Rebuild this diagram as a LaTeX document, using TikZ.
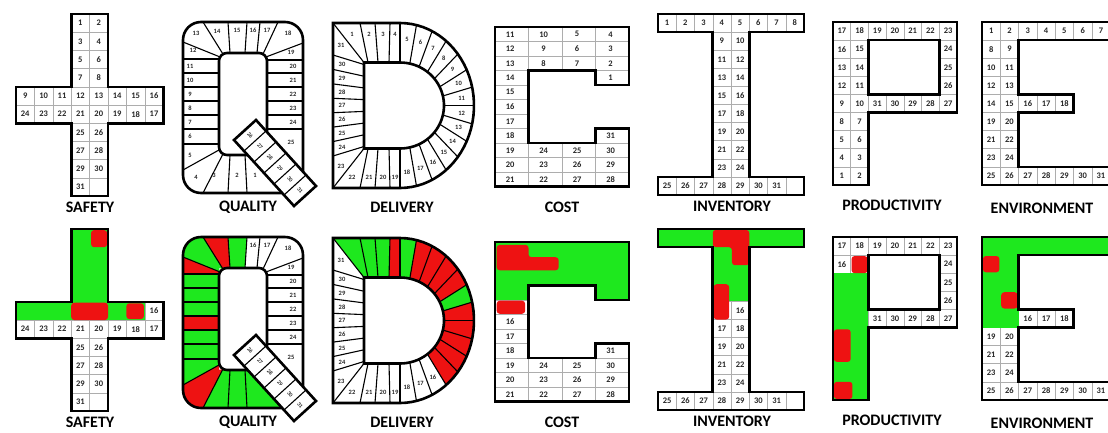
\documentclass[tikz,border=0pt]{standalone}
\usepackage{fontspec}
\setmainfont{Carlito}
\usetikzlibrary{calc}

\definecolor{gr}{RGB}{30,232,30}
\definecolor{rd}{RGB}{238,18,18}

\tikzset{
  outl/.style={line width=2.6pt},
  sep/.style={line width=1.1pt},
  gridln/.style={draw=black!32, line width=0.5pt},
  num/.style={font=\bfseries\fontsize{8.5}{8.5}\selectfont, text=black!85, inner sep=0pt},
  qnum/.style={font=\bfseries\fontsize{6.5}{6.5}\selectfont, text=black!85, inner sep=0pt},
  tnum/.style={font=\bfseries\fontsize{5.5}{5.5}\selectfont, text=black!85, inner sep=0pt},
  title/.style={font=\bfseries\fontsize{16}{16}\selectfont, inner sep=0pt},
  blob/.style={fill=rd, rounded corners=3pt}
}

\newcommand{\kpirow}[1]{%
  \begin{scope}[shift={(16,14)}, x=18.4pt, y=-18.2pt]
    \foreach \n/\cx/\ry in {1/3/0,2/4/0,3/3/1,4/4/1,5/3/2,6/4/2,7/3/3,8/4/3,
      9/0/4,10/1/4,11/2/4,12/3/4,13/4/4,14/5/4,15/6/4,16/7/4,
      24/0/5,23/1/5,22/2/5,21/3/5,20/4/5,19/5/5,18/6/5,17/7/5,
      25/3/6,26/4/6,27/3/7,28/4/7,29/3/8,30/4/8,31/3/9}
      {\draw[gridln] (\cx,\ry) rectangle +(1,1);
       \node[num] (s\n) at (\cx+.5,\ry+.5) {\n};}
    \draw[gridln] (4,9) rectangle +(1,1);
    \ifnum#1=1
      \fill[gr] (3,0) rectangle (5,4);
      \fill[gr] (0,4) rectangle (7,5);
      \fill[blob] (4.08,0.06) rectangle (4.95,1);
      \fill[blob] (3,4.05) rectangle (5,5);
      \fill[blob] (6,4.08) rectangle (6.95,4.95);
    \fi
    \draw[outl] (3,0) -- (5,0) -- (5,4) -- (8,4) -- (8,6) -- (5,6) -- (5,10) -- (3,10) -- (3,6) -- (0,6) -- (0,4) -- (3,4) -- cycle;
  \end{scope}
  \node[title] (safety) at (90,207) {SAFETY};
  % Q
  \foreach \k/\ix/\iy/\ox/\oy in {0/267/155/303/193,1/245/155/247/193,2/230/155/228/193,3/223/153.9/203/193,
    4/219.5/149.7/183/170,5/219/144/183/144,6/219/129/183/129,7/219/115/183/115,8/219/101/183/101,
    9/219/87/183/87,10/219/73/183/73,11/219/59/183/59,12/220.1/57/183/42,13/223/54.1/203/22,
    14/230/53/228/22,15/245/53/247/22,16/257/53/260/22,17/263/54.1/278/22,18/265.9/57/303/43,
    19/267/60/303/60,20/267/73/303/73,21/267/87/303/87,22/267/101/303/101,23/267/115/303/115,24/267/129/303/129}
    {\coordinate (qi\k) at (\ix,\iy); \coordinate (qo\k) at (\ox,\oy);}
  \foreach \n/\x/\y in {1/255/175,2/237/175,3/214/175,4/196/177,5/190/155,6/190/136,7/190/122,8/190/108,
    9/190/94,10/190/80,11/190/66,12/193/50,13/196/33,14/217/31,15/237/30,16/253/30,17/267/30,18/288/33,
    19/291/52,20/293/66,21/293/80,22/293/94,23/293/108,24/293/122,25/291/142}
    {\node[qnum] (q\n) at (\x,\y) {\n};}
  \ifnum#1=1
    \begin{scope}
      \clip[rounded corners=18pt] (183,22) rectangle (303,193);
      \foreach \cc/\col in {1/gr,2/gr,3/gr,5/gr,6/gr,7/gr,8/rd,9/gr,10/gr,11/gr,12/rd,14/rd,15/gr}
        {\pgfmathtruncatemacro\pv{\cc-1}
         \fill[fill=\col] (qi\pv) -- (qo\pv) -- (qo\cc) -- (qi\cc) -- cycle;}
      \fill[rd] (qi3) -- (qo3) -- (183,193) -- (qo4) -- (qi4) -- (219,155) -- cycle;
      \fill[gr] (qi12) -- (qo12) -- (183,22) -- (qo13) -- (qi13) -- (219,53) -- cycle;
    \end{scope}
  \fi
  \foreach \k in {1,...,24} \draw[sep] (qi\k) -- (qo\k);
  \draw[outl, rounded corners=18pt] (183,22) rectangle (303,193);
  \draw[outl, fill=white, rounded corners=8pt] (219,53) rectangle (267,155);
  \coordinate (ta) at (234,140); \coordinate (tb) at (256,120);
  \coordinate (tc) at (316,186); \coordinate (td) at (294,206);
  \draw[outl, fill=white] (ta) -- (tb) -- (tc) -- (td) -- cycle;
  \foreach \k in {1,...,5} \draw[sep] ($(ta)!{\k/6}!(td)$) -- ($(tb)!{\k/6}!(tc)$);
  \coordinate (tm1) at ($(ta)!.5!(tb)$); \coordinate (tm2) at ($(td)!.5!(tc)$);
  \foreach \k [evaluate=\k as \n using int(25+\k)] in {1,...,6}
    \node[tnum, rotate=-48] (t\n) at ($(tm1)!{(\k-.5)/6}!(tm2)$) {\n};
  \node[title] (quality) at (248,207) {QUALITY};
  % D
  \coordinate (di0) at (364,62.5); \coordinate (do0) at (333,23);
  \foreach \k/\ix/\ox in {1/368/360,2/378/375,3/389/390}
    {\coordinate (di\k) at (\ix,62.5); \coordinate (do\k) at (\ox,23);}
  \foreach \k in {4,...,18}
    {\pgfmathsetmacro\ang{90-(\k-4)*180/14}
     \coordinate (di\k) at ({400+44*cos(\ang)},{105.5-43*sin(\ang)});
     \coordinate (do\k) at ({400+74*cos(\ang)},{105.5-82.5*sin(\ang)});}
  \foreach \k/\ix/\ox in {19/389/390,20/378/375,21/368/360}
    {\coordinate (di\k) at (\ix,148.5); \coordinate (do\k) at (\ox,188);}
  \coordinate (di22) at (364,148.5); \coordinate (do22) at (333,188);
  \foreach \k/\iy/\oy in {23/146.5/156,24/134.8/141.6,25/123.1/127.1,26/111.4/112.7,
    27/99.6/98.3,28/87.9/83.9,29/76.2/69.4,30/64.5/55}
    {\coordinate (di\k) at (364,\iy); \coordinate (do\k) at (333,\oy);}
  \foreach \n/\x/\y in {1/352/34,2/369/34,3/383/34,4/395/34,19/395/177,20/383/177,21/369/177,22/352/177,
    23/341/166,24/342/147,25/342/133,26/342/119,27/342/105.5,28/342/92,29/342/78,30/342/64,31/341/45}
    {\node[qnum] (d\n) at (\x,\y) {\n};}
  \foreach \k in {5,...,18}
    {\pgfmathsetmacro\ang{90-(\k-4.5)*180/14}
     \node[qnum] (d\k) at ({400+62*cos(\ang)},{105.5-67*sin(\ang)}) {\k};}
  \ifnum#1=1
    \foreach \cc/\col in {1/gr,2/gr,3/gr,4/rd,5/gr,6/rd,7/rd,8/rd,9/rd,10/gr,11/rd,12/rd,13/rd,14/rd,15/rd}
      {\pgfmathtruncatemacro\pv{\cc-1}
       \fill[fill=\col] (di\pv) -- (do\pv) -- (do\cc) -- (di\cc) -- cycle;}
  \fi
  \foreach \k in {0,...,30} \draw[sep] (di\k) -- (do\k);
  \draw[outl] (333,23) -- (400,23) -- plot[domain=90:-90, samples=40] ({400+74*cos(\x)},{105.5-82.5*sin(\x)}) -- (333,188) -- cycle;
  \draw[outl] (364,62.5) -- (400,62.5) -- plot[domain=90:-90, samples=40] ({400+44*cos(\x)},{105.5-43*sin(\x)}) -- (364,148.5) -- cycle;
  \node[title] (delivery) at (402,207) {DELIVERY};
  % C
  \begin{scope}[shift={(495,27)}, x=33.5pt, y=-14.5pt]
    \foreach \n/\cx/\ry in {11/0/0,10/1/0,5/2/0,4/3/0,12/0/1,9/1/1,6/2/1,3/3/1,13/0/2,8/1/2,7/2/2,2/3/2,
      14/0/3,1/3/3,15/0/4,16/0/5,17/0/6,18/0/7,31/3/7,19/0/8,24/1/8,25/2/8,30/3/8,
      20/0/9,23/1/9,26/2/9,29/3/9,21/0/10,22/1/10,27/2/10,28/3/10}
      {\draw[gridln] (\cx,\ry) rectangle +(1,1);
       \node[num] (c\n) at (\cx+.45,\ry+.5) {\n};}
    \ifnum#1=1
      \fill[gr] (0,0) rectangle (4,3);
      \fill[gr] (0,3) rectangle (1,4);
      \fill[gr] (3,3) rectangle (4,4);
      \fill[blob] (0.05,0.2) -- (1,0.2) -- (1,1.05) -- (1.9,1.05) -- (1.9,1.95) -- (0.05,1.95) -- cycle;
      \fill[blob] (0.05,4.05) rectangle (0.9,4.95);
    \fi
    \draw[outl] (0,0) -- (4,0) -- (4,4) -- (3,4) -- (3,3) -- (1,3) -- (1,8) -- (3,8) -- (3,7) -- (4,7) -- (4,11) -- (0,11) -- cycle;
  \end{scope}
  \node[title] (cost) at (562,207) {COST};
  % I
  \begin{scope}[shift={(658,14)}, x=18.25pt, y=-18.1pt]
    \foreach \n/\cx/\ry in {1/0/0,2/1/0,3/2/0,4/3/0,5/4/0,6/5/0,7/6/0,8/7/0,
      9/3/1,10/4/1,11/3/2,12/4/2,13/3/3,14/4/3,15/3/4,16/4/4,17/3/5,18/4/5,
      19/3/6,20/4/6,21/3/7,22/4/7,23/3/8,24/4/8,
      25/0/9,26/1/9,27/2/9,28/3/9,29/4/9,30/5/9,31/6/9}
      {\draw[gridln] (\cx,\ry) rectangle +(1,1);
       \node[num] (i\n) at (\cx+.5,\ry+.5) {\n};}
    \draw[gridln] (7,9) rectangle +(1,1);
    \ifnum#1=1
      \fill[gr] (0,0) rectangle (8,1);
      \fill[gr] (3,1) rectangle (5,4);
      \fill[blob] (3,0.05) -- (5,0.05) -- (5,2) -- (4.05,2) -- (4.05,1) -- (3,1) -- cycle;
      \fill[blob] (3.05,3.05) rectangle (3.9,5);
    \fi
    \draw[outl] (0,0) -- (8,0) -- (8,1) -- (5,1) -- (5,9) -- (8,9) -- (8,10) -- (0,10) -- (0,9) -- (3,9) -- (3,1) -- (0,1) -- cycle;
  \end{scope}
  \node[title] (inventory) at (732,206) {INVENTORY};
  % P
  \begin{scope}[shift={(833,22)}, x=17.7pt, y=-18.1pt]
    \foreach \n/\cx/\ry in {17/0/0,18/1/0,19/2/0,20/3/0,21/4/0,22/5/0,23/6/0,
      16/0/1,15/1/1,24/6/1,13/0/2,14/1/2,25/6/2,12/0/3,11/1/3,26/6/3,
      9/0/4,10/1/4,31/2/4,30/3/4,29/4/4,28/5/4,27/6/4,
      8/0/5,7/1/5,5/0/6,6/1/6,4/0/7,3/1/7,1/0/8,2/1/8}
      {\draw[gridln] (\cx,\ry) rectangle +(1,1);
       \node[num] (p\n) at (\cx+.5,\ry+.5) {\n};}
    \ifnum#1=1
      \fill[gr] (0,2) rectangle (2,9);
      \fill[blob] (1.05,1.05) rectangle (1.95,2);
      \fill[blob] (0.05,5.1) rectangle (1,6.9);
      \fill[blob] (0.05,8) rectangle (1.1,8.95);
    \fi
    \draw[outl] (0,0) -- (7,0) -- (7,5) -- (2,5) -- (2,9) -- (0,9) -- cycle;
    \draw[outl] (2,1) rectangle (6,4);
  \end{scope}
  \node[title] (productivity) at (892,205) {PRODUCTIVITY};
  % E
  \begin{scope}[shift={(982,22)}, x=18.3pt, y=-18.1pt]
    \foreach \n/\cx/\ry in {1/0/0,2/1/0,3/2/0,4/3/0,5/4/0,6/5/0,7/6/0,
      8/0/1,9/1/1,10/0/2,11/1/2,12/0/3,13/1/3,14/0/4,15/1/4,16/2/4,17/3/4,18/4/4,
      19/0/5,20/1/5,21/0/6,22/1/6,23/0/7,24/1/7,
      25/0/8,26/1/8,27/2/8,28/3/8,29/4/8,30/5/8,31/6/8}
      {\draw[gridln] (\cx,\ry) rectangle +(1,1);
       \node[num] (e\n) at (\cx+.5,\ry+.5) {\n};}
    \ifnum#1=1
      \fill[gr] (0,0) rectangle (7,1);
      \fill[gr] (0,1) rectangle (2,5);
      \fill[blob] (0.05,1.05) rectangle (0.95,1.95);
      \fill[blob] (1.05,3.05) rectangle (1.95,3.95);
    \fi
    \draw[outl] (0,0) -- (7,0) -- (7,1) -- (2,1) -- (2,4) -- (5,4) -- (5,5) -- (2,5) -- (2,8) -- (7,8) -- (7,9) -- (0,9) -- cycle;
  \end{scope}
  \node[title] (environment) at (1042,208) {ENVIRONMENT};
}

\begin{document}
\begin{tikzpicture}[x=1pt, y=-1pt]
  \useasboundingbox (0,0) rectangle (1108,432);
  \kpirow{0}
  \begin{scope}[shift={(0,215)}]
    \kpirow{1}
  \end{scope}
\end{tikzpicture}
\end{document}
